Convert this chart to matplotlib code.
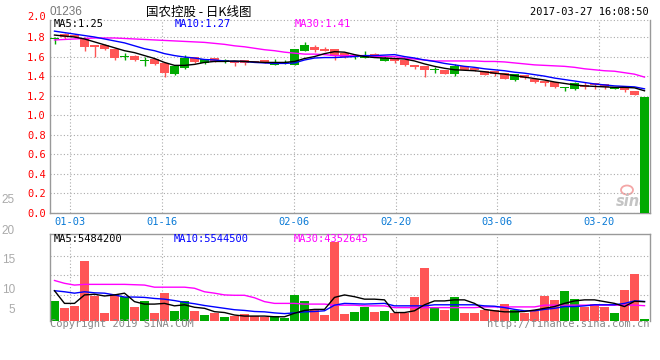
import matplotlib
matplotlib.use('Agg')
import matplotlib.pyplot as plt
from matplotlib.patches import Ellipse

# --- data (60 trading days, 2016-12-29 .. 2017-03-27) ---
opens = [1.775, 1.83, 1.82, 1.79, 1.72, 1.72, 1.68, 1.60, 1.61, 1.55,
         1.575, 1.535, 1.42, 1.48, 1.60, 1.53, 1.59, 1.54, 1.55, 1.565,
         1.555, 1.565, 1.515, 1.535, 1.515, 1.66, 1.70, 1.68, 1.68, 1.635,
         1.595, 1.59, 1.63, 1.555, 1.59, 1.565, 1.515, 1.50, 1.46, 1.46,
         1.425, 1.505, 1.48, 1.45, 1.45, 1.43, 1.36, 1.415, 1.375, 1.345,
         1.335, 1.28, 1.265, 1.31, 1.325, 1.32, 1.265, 1.285, 1.25, 0.0]
highs = [1.80, 1.84, 1.83, 1.80, 1.72, 1.73, 1.69, 1.64, 1.62, 1.60,
         1.59, 1.54, 1.50, 1.62, 1.60, 1.58, 1.59, 1.57, 1.55, 1.565,
         1.555, 1.565, 1.58, 1.56, 1.68, 1.75, 1.72, 1.70, 1.68, 1.64,
         1.61, 1.66, 1.64, 1.61, 1.59, 1.565, 1.515, 1.50, 1.49, 1.46,
         1.525, 1.505, 1.49, 1.45, 1.45, 1.43, 1.425, 1.415, 1.375, 1.345,
         1.335, 1.29, 1.335, 1.335, 1.325, 1.32, 1.29, 1.29, 1.25, 1.19]
lows = [1.73, 1.78, 1.79, 1.66, 1.60, 1.67, 1.56, 1.56, 1.55, 1.50,
        1.51, 1.39, 1.41, 1.47, 1.53, 1.52, 1.54, 1.535, 1.50, 1.51,
        1.54, 1.53, 1.515, 1.52, 1.515, 1.66, 1.65, 1.66, 1.56, 1.59,
        1.58, 1.585, 1.60, 1.555, 1.535, 1.505, 1.47, 1.39, 1.43, 1.425,
        1.40, 1.46, 1.45, 1.415, 1.40, 1.37, 1.345, 1.37, 1.33, 1.30,
        1.275, 1.245, 1.26, 1.265, 1.27, 1.27, 1.265, 1.235, 1.205, 0.0]
closes = [1.78, 1.80, 1.80, 1.70, 1.70, 1.68, 1.59, 1.605, 1.56, 1.555,
          1.52, 1.43, 1.50, 1.59, 1.54, 1.575, 1.545, 1.565, 1.53, 1.53,
          1.545, 1.53, 1.54, 1.545, 1.68, 1.72, 1.67, 1.66, 1.61, 1.595,
          1.60, 1.61, 1.60, 1.59, 1.55, 1.515, 1.49, 1.465, 1.465, 1.425,
          1.50, 1.46, 1.46, 1.415, 1.425, 1.375, 1.425, 1.38, 1.34, 1.33,
          1.285, 1.29, 1.325, 1.29, 1.305, 1.29, 1.29, 1.255, 1.205, 1.19]

ma5 = [1.82, 1.81, 1.80, 1.78, 1.75, 1.72, 1.69, 1.66, 1.64, 1.61,
       1.58, 1.54, 1.51, 1.51, 1.52, 1.54, 1.55, 1.55, 1.555, 1.55,
       1.545, 1.54, 1.54, 1.54, 1.55, 1.58, 1.60, 1.63, 1.65, 1.645,
       1.62, 1.60, 1.59, 1.585, 1.58, 1.575, 1.555, 1.525, 1.50, 1.48,
       1.465, 1.46, 1.455, 1.445, 1.43, 1.42, 1.405, 1.39, 1.375, 1.36,
       1.34, 1.325, 1.31, 1.30, 1.295, 1.29, 1.285, 1.285, 1.28, 1.25]
ma10 = [1.86, 1.845, 1.83, 1.815, 1.80, 1.78, 1.76, 1.74, 1.71, 1.68,
        1.66, 1.63, 1.61, 1.595, 1.585, 1.57, 1.565, 1.555, 1.55, 1.55,
        1.54, 1.535, 1.53, 1.53, 1.535, 1.565, 1.585, 1.59, 1.59, 1.595,
        1.60, 1.61, 1.61, 1.615, 1.62, 1.60, 1.585, 1.565, 1.55, 1.53,
        1.515, 1.50, 1.49, 1.475, 1.465, 1.455, 1.44, 1.43, 1.415, 1.40,
        1.38, 1.365, 1.35, 1.335, 1.32, 1.31, 1.30, 1.295, 1.29, 1.27]
ma30 = [1.77, 1.775, 1.78, 1.785, 1.79, 1.79, 1.79, 1.785, 1.78, 1.775,
        1.77, 1.765, 1.76, 1.755, 1.75, 1.745, 1.735, 1.725, 1.71, 1.70,
        1.685, 1.67, 1.66, 1.645, 1.635, 1.625, 1.625, 1.62, 1.61, 1.61,
        1.61, 1.61, 1.60, 1.60, 1.60, 1.585, 1.575, 1.565, 1.555, 1.555,
        1.555, 1.555, 1.555, 1.55, 1.55, 1.545, 1.535, 1.525, 1.515, 1.51,
        1.505, 1.50, 1.49, 1.475, 1.465, 1.455, 1.45, 1.435, 1.42, 1.39]

# volume in millions of shares
volume = [5.7, 3.8, 4.35, 17.0, 7.2, 2.4, 7.6, 6.9, 4.1, 5.8,
          2.4, 8.0, 2.9, 5.8, 2.9, 1.7, 2.4, 1.05, 1.5, 2.0,
          1.5, 1.2, 1.4, 0.95, 7.4, 5.8, 3.3, 1.7, 22.5, 2.0,
          2.6, 4.1, 2.6, 2.8, 2.4, 2.4, 6.9, 15.1, 4.1, 3.1,
          6.7, 2.4, 2.4, 3.1, 3.1, 4.8, 3.1, 2.4, 2.9, 7.2,
          6.0, 8.5, 6.25, 4.1, 4.8, 4.1, 2.4, 8.8, 13.4, 0.5]
vol_ma5 = [8.6, 5.0, 5.0, 7.4, 7.6, 7.1, 7.4, 7.9, 5.5, 4.8,
           4.8, 5.0, 4.3, 4.6, 3.9, 3.6, 2.65, 2.4, 1.7, 1.4,
           1.4, 1.4, 1.2, 1.2, 2.2, 3.0, 3.3, 3.3, 6.7, 7.4,
           6.9, 6.2, 6.2, 6.0, 2.4, 2.4, 2.9, 4.6, 5.7, 5.7,
           6.0, 6.0, 5.0, 3.3, 2.9, 2.6, 2.6, 2.7, 3.1, 3.6,
           4.1, 5.0, 5.7, 6.0, 6.0, 5.5, 5.0, 4.1, 5.6, 5.48]
vol_ma10 = [8.6, 8.3, 7.9, 8.3, 8.0, 7.9, 7.4, 6.8, 6.8, 6.7,
            6.4, 6.2, 5.8, 5.3, 4.9, 4.4, 4.0, 3.6, 3.2, 3.0,
            2.7, 2.6, 2.3, 2.1, 2.3, 2.6, 2.7, 2.9, 4.5, 5.0,
            4.9, 4.8, 4.9, 5.0, 4.3, 4.3, 4.3, 4.3, 4.6, 4.6,
            4.6, 4.6, 4.6, 4.3, 4.2, 3.8, 3.3, 2.9, 2.9, 3.3,
            3.6, 4.1, 4.1, 4.3, 4.6, 4.6, 4.6, 5.0, 5.7, 5.54]
vol_ma30 = [11.5, 10.7, 10.2, 10.4, 10.4, 10.4, 10.4, 10.4, 10.3, 10.2,
            9.6, 9.6, 9.6, 9.6, 9.3, 8.3, 7.9, 7.4, 7.3, 7.3,
            6.6, 5.5, 5.0, 5.0, 5.0, 4.8, 4.8, 4.8, 4.5, 4.5,
            4.5, 4.3, 4.3, 4.3, 3.8, 3.8, 3.8, 3.8, 3.8, 3.8,
            3.8, 3.8, 3.8, 4.0, 4.0, 4.0, 4.0, 4.0, 4.0, 4.5,
            4.5, 4.5, 4.5, 4.5, 4.5, 4.5, 4.5, 4.5, 4.5, 4.35]

date_idx = [2, 11, 24, 34, 44, 54]
date_labels = ['01-03', '01-16', '02-06', '02-20', '03-06', '03-20']
price_ticks = [0.0, 0.2, 0.4, 0.6, 0.8, 1.0, 1.2, 1.4, 1.6, 1.8]
side_labels = ['25', '20', '15', '10', '5']

W, H = 660, 360
RED = '#ff5555'
GREEN = '#00aa00'
GRID = '#aaaaaa'
FRAME = '#999999'
MONO = 'DejaVu Sans Mono'


def px(x, y):
    """Pixel position -> figure fraction."""
    return x / W, 1 - y / H


def style_frame(ax, top_solid):
    for side in ['left', 'right', 'bottom', 'top']:
        ax.spines[side].set_color(FRAME)
        ax.spines[side].set_linewidth(1)
    ax.spines['top'].set_visible(top_solid)
    if not top_solid:
        ax.axhline(ax.get_ylim()[1], color=GRID, lw=0.8, ls=(0, (1, 2)), clip_on=False)


fig = plt.figure(figsize=(W / 100, H / 100), dpi=100)
fig.patch.set_facecolor('white')

n = len(closes)
xs = list(range(n))
centers = [i + 0.45 for i in xs]
colors = [GREEN if c >= o else RED for o, c in zip(opens, closes)]
tick_pos = [i * n / (n - 1) for i in date_idx]

# Price panel
l, b = px(50, 213)
ax = fig.add_axes([l, b, 600 / W, 193 / H])
ax.set_xlim(0, n)
ax.set_ylim(0, 1.974)

bottoms = [min(o, c) for o, c in zip(opens, closes)]
heights = [max(abs(c - o), 0.01) for o, c in zip(opens, closes)]
ax.vlines(centers, lows, highs, colors=colors, lw=1, zorder=2)
ax.bar(xs, heights, bottom=bottoms, width=0.92, align='edge', color=colors, zorder=3)
ax.plot(centers, ma30, color='#ff00ff', lw=1, zorder=4)
ax.plot(centers, ma10, color='#0000ff', lw=1, zorder=4)
ax.plot(centers, ma5, color='black', lw=1, zorder=4)

ax.set_yticks(price_ticks)
ax.set_yticklabels([f'{v:.1f}' for v in price_ticks])
ax.text(-0.4, 2.0, '2.0', color='red', fontsize=7.5, family=MONO,
        ha='right', va='center', clip_on=False)
ax.set_xticks(tick_pos)
ax.set_xticklabels(date_labels)
ax.tick_params(axis='y', length=0, pad=3, labelcolor='red', labelsize=7.5)
ax.tick_params(axis='x', length=0, pad=3, labelcolor='#0a7ad6', labelsize=7.5)
for t in ax.get_xticklabels() + ax.get_yticklabels():
    t.set_family(MONO)
ax.grid(True, color=GRID, lw=0.8, ls=(0, (1, 2)), zorder=0)
style_frame(ax, top_solid=False)

# sina watermark, behind the bars
ax.add_patch(Ellipse(px(627, 190), 12 / W, 9 / H, fill=False, edgecolor='#f4a6a6',
                     lw=1.3, transform=fig.transFigure, zorder=1))
ax.text(*px(633, 201), 'sina', transform=fig.transFigure, color='#c4c4c4',
        fontsize=10.5, style='italic', weight='bold', ha='center', va='center', zorder=1)

# Volume panel
l, b = px(50, 321)
vax = fig.add_axes([l, b, 600 / W, 87 / H])
vax.set_xlim(0, n)
vax.set_ylim(0, 24.7)
vax.bar(xs, volume, width=0.92, align='edge', color=colors, zorder=2)
vax.plot(centers, vol_ma30, color='#ff00ff', lw=1, zorder=3)
vax.plot(centers, vol_ma10, color='#0000ff', lw=1, zorder=3)
vax.plot(centers, vol_ma5, color='black', lw=1, zorder=3)
vax.set_xticks(tick_pos)
vax.set_xticklabels([])
vax.set_yticks([7.4, 13.0, 18.5])
vax.set_yticklabels([])
vax.tick_params(length=0)
vax.grid(True, color=GRID, lw=0.8, ls=(0, (1, 2)), zorder=0)
style_frame(vax, top_solid=True)
vax.spines['bottom'].set_visible(False)

# header and legend texts
mono = dict(family=MONO, fontsize=7.5, va='center')
fig.text(*px(50, 12), '01236', color='#777777', fontsize=8.5, va='center',
         family='Liberation Sans')
fig.text(*px(199, 12), '国农控股 - 日K线图', ha='center', va='center', fontsize=9,
         family=['Noto Sans CJK SC', 'DejaVu Sans'])
fig.text(*px(649, 12), '2017-03-27 16:08:50', ha='right', color='black', **mono)

fig.text(*px(54, 24), f'MA5:{ma5[-1]:.2f}', color='black', **mono)
fig.text(*px(175, 24), f'MA10:{ma10[-1]:.2f}', color='#0000ff', **mono)
fig.text(*px(295, 24), 'MA30:1.41', color='#ff00ff', **mono)

fig.text(*px(54, 239), 'MA5:5484200', color='black', **mono)
fig.text(*px(174, 239), 'MA10:5544500', color='#0000ff', **mono)
fig.text(*px(294, 239), 'MA30:4352645', color='#ff00ff', **mono)

for lab, y in zip(side_labels, [200, 231, 260, 290, 310]):
    fig.text(*px(15, y), lab, color='#aaaaaa', fontsize=8.5, ha='right', va='center',
             family='Liberation Sans')

fig.text(*px(50, 324), 'Copyright 2019 SINA.COM', color='#888888', **mono)
fig.text(*px(649, 324), 'http://finance.sina.com.cn', ha='right', color='#888888', **mono)

plt.savefig('out.png', dpi=100)
plt.close()
